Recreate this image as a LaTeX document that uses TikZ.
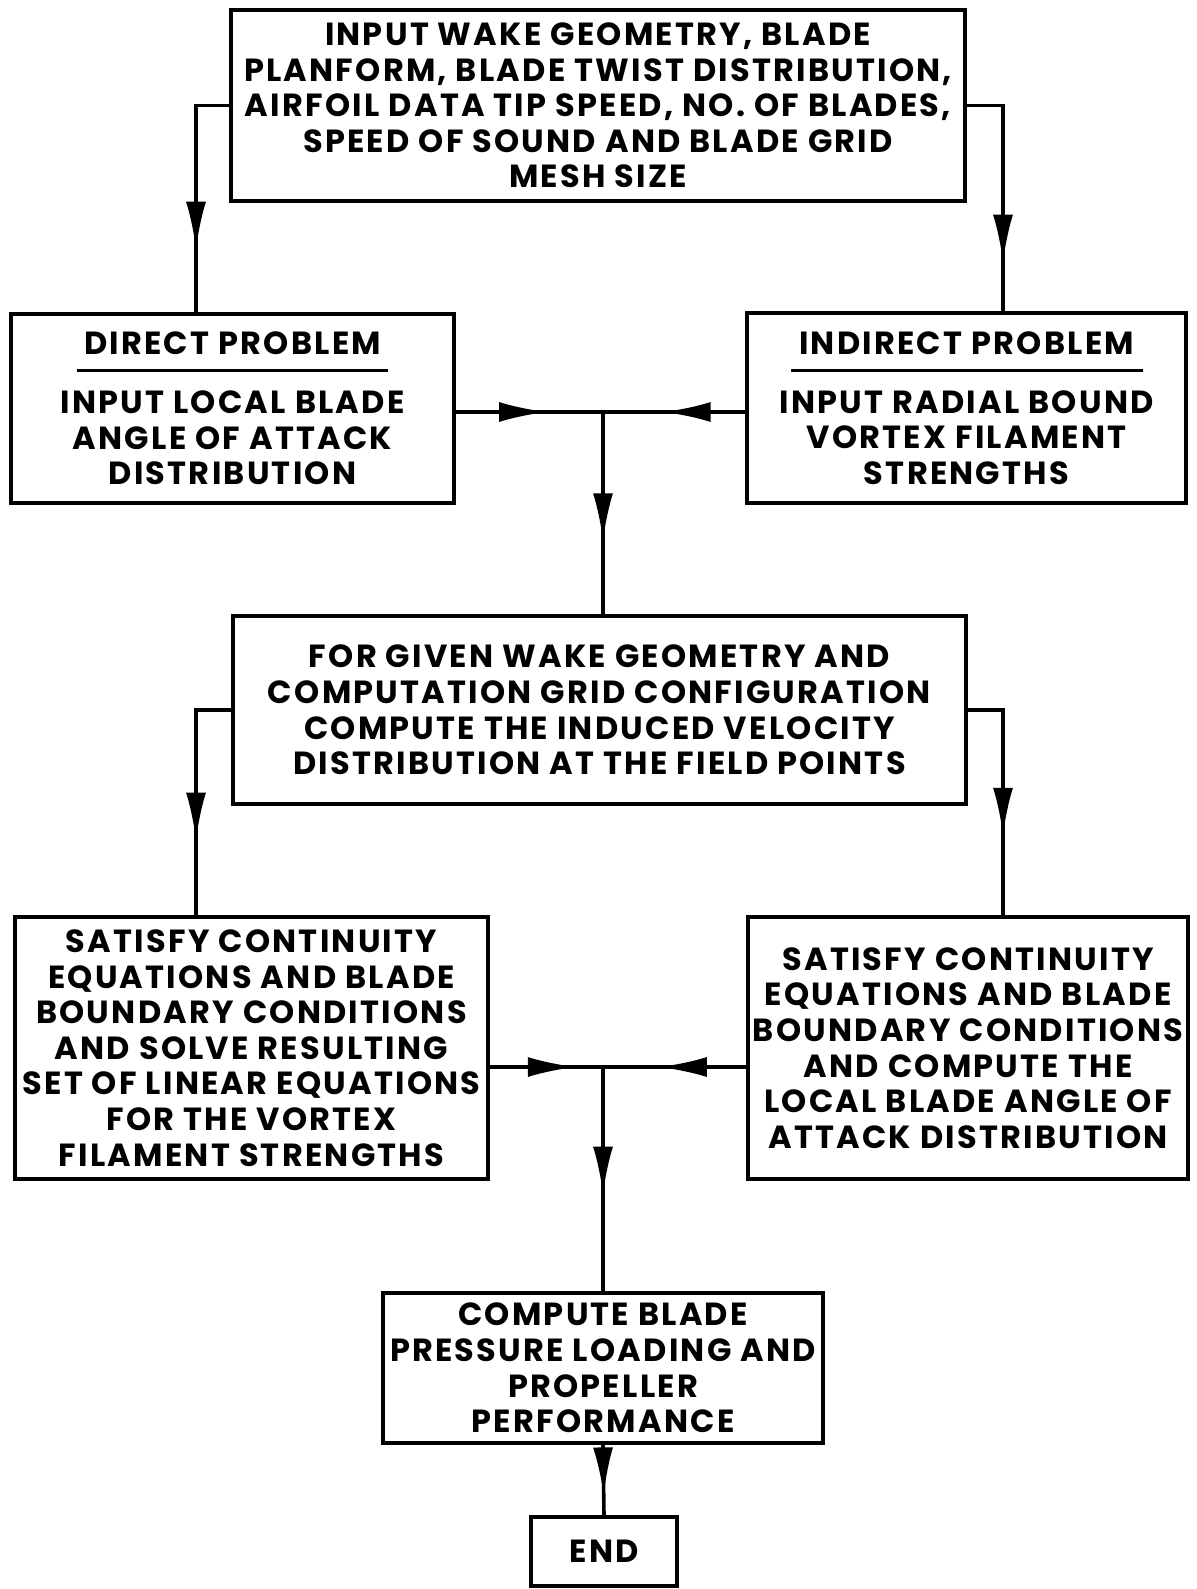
\documentclass[tikz,border=0pt]{standalone}
\usepackage{fontspec}
\usepackage{tikz}
\usetikzlibrary{arrows.meta}
\usetikzlibrary{decorations.markings}
\newfontfamily\chartfont{Poppins}[LetterSpace=7]
\tikzset{box/.style={
        draw, 
        rectangle, 
        line width=2pt,
        inner sep=0pt,
        align=center,
        font=\chartfont\bfseries\fontsize{16}{17.8}\selectfont } }
\tikzset{flow/.style={
        line width=1.8pt,
        postaction={decorate},
        decoration={markings,
          mark=at position #1 with {\arrow{Latex[length=24pt,width=10pt]}}} } }
\newcommand{\headrule}[1]{\rule[6pt]{#1}{1.5pt}}

\begin{document}
\begin{tikzpicture}[x=0.5pt,y=-0.5pt]
\useasboundingbox (0,0) rectangle (1197,1589);

\node[box, minimum width=367pt, minimum height=95.5pt] (inp) at (598,105.5) 
{INPUT WAKE GEOMETRY, BLADE\\ PLANFORM, BLADE TWIST DISTRIBUTION,\\
AIRFOIL DATA TIP SPEED, NO. OF BLADES,\\ SPEED OF SOUND AND BLADE GRID\\ MESH SIZE};

\node[box, minimum width=221.5pt, minimum height=94.5pt] (dir) at (232.5,408.5) 
{DIRECT PROBLEM\\[-3pt] \headrule{155pt}\\[-3pt]
INPUT LOCAL BLADE\\ ANGLE OF ATTACK\\ DISTRIBUTION};
\node[box, minimum width=219.5pt, minimum height=95pt] (ind) at (966.5,408) 
{INDIRECT PROBLEM\\[-3pt] \headrule{176pt}\\[-3pt]
INPUT RADIAL BOUND\\ VORTEX FILAMENT\\ STRENGTHS};

\node[box, minimum width=366.5pt, minimum height=94pt] (comp) at (599.5,710) 
{FOR GIVEN WAKE GEOMETRY AND\\ COMPUTATION GRID CONFIGURATION\\
COMPUTE THE INDUCED VELOCITY\\ DISTRIBUTION AT THE FIELD POINTS};

\node[box, minimum width=236.5pt, minimum height=131pt] (solve) at (251.5,1048) 
{SATISFY CONTINUITY\\ EQUATIONS AND BLADE\\ BOUNDARY CONDITIONS\\
AND SOLVE RESULTING\\ SET OF LINEAR EQUATIONS\\ FOR THE VORTEX\\ FILAMENT STRENGTHS};
\node[box, minimum width=220pt, minimum height=131pt] (sat) at (968,1048) 
{SATISFY CONTINUITY\\ EQUATIONS AND BLADE\\ BOUNDARY CONDITIONS\\
AND COMPUTE THE\\ LOCAL BLADE ANGLE OF\\ ATTACK DISTRIBUTION};

\node[box, minimum width=220pt, minimum height=75pt] (perf) at (603,1368) 
{COMPUTE BLADE\\ PRESSURE LOADING AND\\ PROPELLER\\ PERFORMANCE};
\node[box, minimum width=73pt, minimum height=34.5pt] (fin) at (604,1551.5) {END};

\coordinate (lx) at (196,0);
\coordinate (rx) at (1003,0);
\coordinate (j1) at (603,412);
\coordinate (j2) at (603,1067);

\draw[flow=0.74] (inp.west) -| (lx |- dir.north);
\draw[flow=0.80] (inp.east) -| (rx |- ind.north);

\draw[flow=0.62] (dir.east |- j1) -- (j1);
\draw[flow=0.58] (ind.west |- j1) -- (j1);
\draw[flow=0.64] (j1) -- (j1 |- comp.north);

\draw[flow=0.69] (comp.west) -| (lx |- solve.north);
\draw[flow=0.67] (comp.east) -| (rx |- sat.north);

\draw[flow=0.76] (solve.east |- j2) -- (j2);
\draw[flow=0.61] (sat.west |- j2) -- (j2);
\draw[flow=0.57] (j2) -- (j2 |- perf.north);

\draw[flow=0.72] (perf.south) -- (fin.north);

\end{tikzpicture}
\end{document}
